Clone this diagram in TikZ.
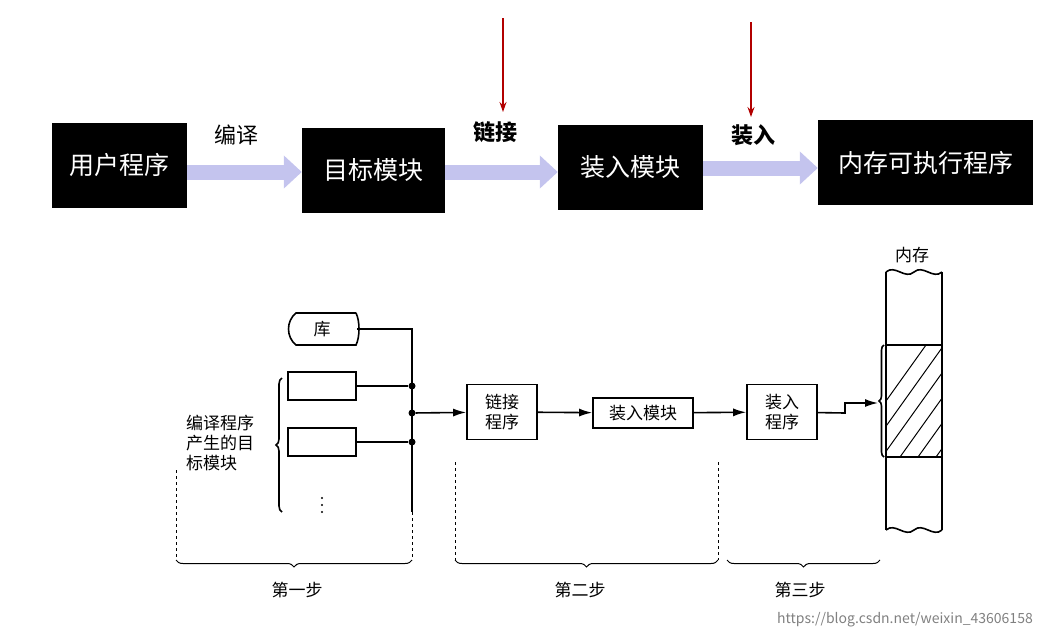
\documentclass[tikz,border=0pt]{standalone}
\usepackage{fontspec}
\setmainfont{Noto Sans CJK SC}
\usetikzlibrary{arrows.meta,decorations.pathreplacing}
\definecolor{lav}{RGB}{196,196,238}
\tikzset{
  blk/.style={fill=black, text=white, inner sep=0pt, font=\fontsize{25}{27}\selectfont},
  fat/.style={lav, line width=15pt, -{Triangle[length=18pt,width=32pt]}},
  red arr/.style={red!70!black, line width=1.5pt, -{Stealth[length=10pt,width=7pt]}},
  box/.style={draw, line width=1.6pt, inner sep=0pt, font=\fontsize{17}{20}\selectfont, align=center},
  ln/.style={line width=1.6pt, -{Latex[length=13pt,width=8pt]}},
  wire/.style={line width=1.6pt},
  step line/.style={dashed, line width=1pt},
  lbl/.style={font=\fontsize{17}{20}\selectfont},
  dot/.style={circle, fill, inner sep=0pt, minimum size=7pt}
}
\begin{document}
\begin{tikzpicture}[x=1pt,y=-1pt]
  \useasboundingbox (0,0) rectangle (1046,638);
  % top row
  \node[blk, minimum width=135pt, minimum height=85pt] (user) at (119.5,165.5) {用户程序};
  \node[blk, minimum width=143pt, minimum height=85pt] (obj) at (373.5,170.5) {目标模块};
  \node[blk, minimum width=145pt, minimum height=85pt] (load) at (630.5,167.5) {装入模块};
  \node[blk, minimum width=215pt, minimum height=85pt] (exe) at (925.5,162.5) {内存可执行程序};
  \draw[fat] (user.east |- 0,172) -- (obj.west |- 0,172);
  \draw[fat] (obj.east |- 0,172) -- (load.west |- 0,172);
  \draw[fat] (load.east |- 0,168) -- (exe.west |- 0,168);
  \node[font=\fontsize{22}{24}\selectfont] (tcomp) at (236,135) {编译};
  \node[font=\bfseries\fontsize{22}{24}\selectfont] (tlink) at (495,132) {链接};
  \node[font=\bfseries\fontsize{22}{24}\selectfont] (tload) at (753,135) {装入};
  \coordinate (r1) at (503,18);
  \coordinate (r2) at (751,22);
  \draw[red arr] (r1) -- (503,112);
  \draw[red arr] (r2) -- (751,117);
  % library and object modules
  \draw[wire] (356,313) -- (296,313) .. controls (286,321) and (286,337) .. (296,345) -- (356,345)
    .. controls (360,337) and (360,321) .. (356,313);
  \node[lbl] (lib) at (322,329) {库};
  \node[box, minimum width=68pt, minimum height=28pt] (m1) at (322,386) {};
  \node[box, minimum width=68pt, minimum height=28pt] (m2) at (322,442) {};
  \foreach \y in {498,505,512} \fill (322,\y) circle (1.2pt);
  \coordinate (libR) at (357,329);
  \coordinate (bus) at (412,329);
  \node[dot] (d1) at (412,386) {};
  \node[dot] (d2) at (412,413) {};
  \node[dot] (d3) at (412,442) {};
  \draw[wire] (libR) -- (bus) -- (412,512);
  \draw[wire] (m1) -- (d1);
  \draw[wire] (m2) -- (d3);
  \draw[wire, decorate, decoration={brace, amplitude=6pt}] (282,512) -- (282,378);
  \node[lbl, align=left] (comp) at (220,443) {编译程序\\产生的目\\标模块};
  % linking and loading
  \node[box, minimum width=70pt, minimum height=55pt] (linker) at (502,412) {链接\\程序};
  \node[box, minimum width=100pt, minimum height=30pt] (lmod) at (643,413) {装入模块};
  \node[box, minimum width=70pt, minimum height=55pt] (loader) at (782,412) {装入\\程序};
  \draw[ln] (d2) -- (linker);
  \draw[ln] (linker) -- (lmod);
  \draw[ln] (lmod) -- (loader);
  % memory
  \draw[wire] (886,272) .. controls (895,264) and (905,280) .. (914,272) .. controls (923,264) and (933,280) .. (942,272);
  \draw[wire] (886,530) .. controls (895,522) and (905,538) .. (914,530) .. controls (923,522) and (933,538) .. (942,530);
  \draw[wire] (886,272) -- (886,530);
  \draw[wire] (942,272) -- (942,530);
  \node[draw, line width=1.6pt, minimum width=56pt, minimum height=112pt, inner sep=0pt] (area) at (914,401) {};
  \begin{scope}
    \clip (886,345) rectangle (942,457);
    \foreach \k in {0,...,9} {
      \draw[line width=1pt] (886+18*\k-40,457) -- (886+18*\k+40,345);
    }
  \end{scope}
  \draw[wire, decorate, decoration={brace, amplitude=5pt}] (884,457) -- (884,345);
  \node[lbl] (mem) at (912,255) {内存};
  \coordinate (k1) at (845,413);
  \coordinate (k2) at (845,403);
  \draw[ln] (loader) -- (k1) -- (k2) -- (878,403);
  % steps
  \draw[step line] (176,470) -- (176,560);
  \draw[step line] (412,512) -- (412,560);
  \draw[step line] (455,462) -- (455,560);
  \draw[step line] (718,462) -- (718,560);
  \draw[line width=1pt, decorate, decoration={brace, amplitude=7pt}] (412,560) -- (176,560);
  \draw[line width=1pt, decorate, decoration={brace, amplitude=7pt}] (718,560) -- (455,560);
  \draw[line width=1pt, decorate, decoration={brace, amplitude=7pt}] (880,560) -- (727,560);
  \node[lbl] (s1) at (297,590) {第一步};
  \node[lbl] (s2) at (580,590) {第二步};
  \node[lbl] (s3) at (800,590) {第三步};
  \node[gray, font=\fontsize{14}{16}\selectfont] (wm) at (905,620) {https://blog.csdn.net/weixin\_43606158};
\end{tikzpicture}
\end{document}
